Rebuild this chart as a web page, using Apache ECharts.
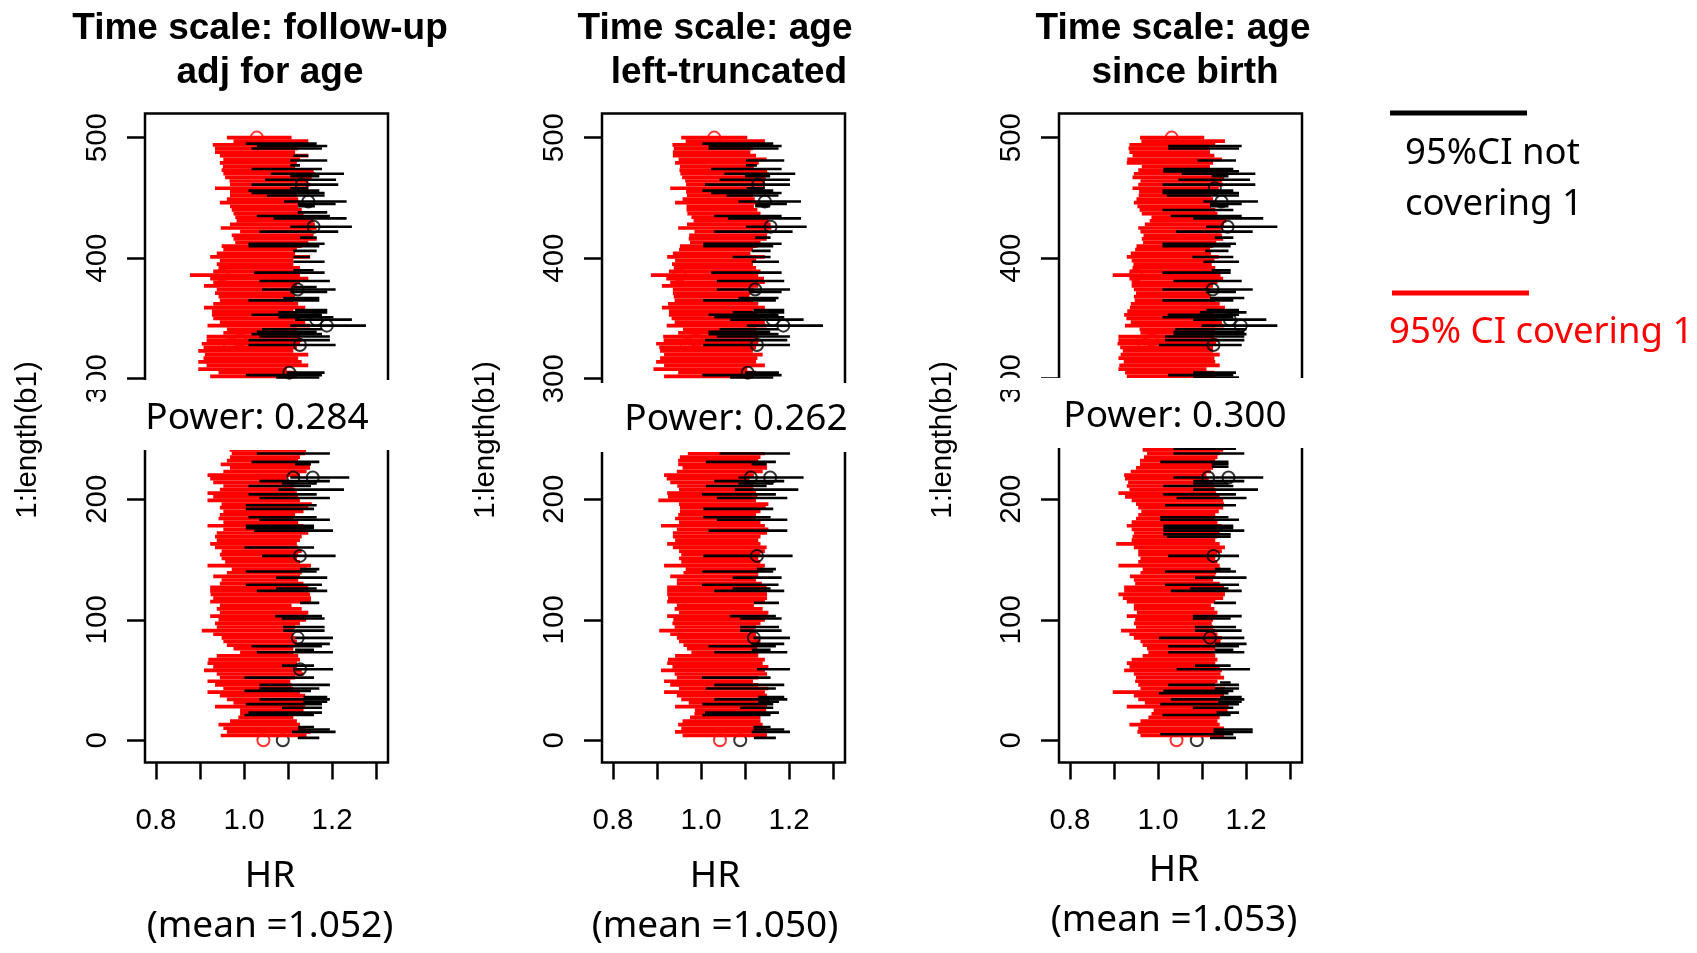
<!DOCTYPE html>
<html><head><meta charset="utf-8">
<style>html,body{margin:0;padding:0;background:#fff}#c{width:1697px;height:953px}</style>
<script src="https://cdn.jsdelivr.net/npm/echarts@6/dist/echarts.min.js"></script></head>
<body><div id="c"></div>
<script>
const yTicks=[0,100,200,300,400,500];
const xTicks=[0.8,0.9,1.0,1.1,1.2,1.3];
const xLabels=[0.8,1.0,1.2];
const redRows=[500,497,494,491,488,485,482,479,476,473,470,467,464,461,458,455,452,449,446,443,440,437,434,431,428,425,422,419,416,413,410,407,404,401,398,395,392,389,386,383,380,377,374,371,368,365,362,359,356,353,350,347,344,341,338,335,332,329,326,323,320,317,314,311,308,305,302,
241,238,235,232,229,226,223,220,217,214,211,208,205,202,199,196,193,190,187,184,181,178,175,172,169,166,163,160,157,154,151,148,145,142,139,136,133,130,127,124,121,118,115,112,109,106,103,100,97,94,91,88,85,82,79,76,73,70,67,64,61,58,55,52,49,46,43,40,37,34,31,28,25,22,19,16,13,10,7,4];

const p1RedLo=[.961,.976,.929,.934,.934,.945,.953,.945,.952,.949,.953,.957,.967,.968,.934,.968,.968,.961,.945,.968,.972,.976,.980,.983,.968,.947,.991,.972,.976,.980,.949,.953,.938,.923,.945,.938,.942,.930,.877,.923,.930,.909,.938,.934,.942,.945,.930,.909,.927,.927,.930,.945,.917,.961,.953,.915,.915,.904,.908,.896,.911,.908,.896,.915,.896,.942,.923,
.967,.972,.968,.961,.947,.968,.953,.917,.923,.930,.953,.945,.917,.930,.917,.949,.945,.953,.945,.942,.953,.917,.953,.938,.934,.938,.923,.934,.949,.945,.949,.957,.917,.972,.961,.930,.949,.945,.923,.923,.924,.930,.923,.945,.938,.945,.923,.942,.934,.938,.904,.930,.949,.953,.961,.976,.991,.938,.919,.917,.930,.909,.938,.945,.917,.934,.953,.917,.945,.961,.976,.934,.991,.991,.987,.968,.942,.953,.961,.947];
const p1RedHi=[1.108,1.146,1.131,1.123,1.116,1.146,1.127,1.120,1.116,1.158,1.161,1.154,1.146,1.150,1.146,1.127,1.120,1.123,1.127,1.123,1.131,1.135,1.154,1.158,1.161,1.165,1.154,1.158,1.165,1.146,1.131,1.120,1.116,1.150,1.112,1.112,1.127,1.131,1.127,1.146,1.127,1.120,1.116,1.112,1.116,1.112,1.123,1.139,1.112,1.120,1.127,1.139,1.150,1.120,1.112,1.127,1.131,1.127,1.120,1.112,1.146,1.123,1.131,1.146,1.097,1.120,1.120,
1.141,1.139,1.127,1.123,1.150,1.150,1.142,1.127,1.097,1.105,1.112,1.116,1.120,1.123,1.127,1.154,1.146,1.135,1.116,1.112,1.123,1.135,1.146,1.146,1.131,1.127,1.120,1.123,1.131,1.123,1.120,1.127,1.152,1.142,1.131,1.127,1.123,1.135,1.146,1.146,1.150,1.152,1.152,1.108,1.131,1.146,1.142,1.141,1.127,1.116,1.112,1.112,1.116,1.120,1.116,1.112,1.112,1.123,1.127,1.120,1.120,1.131,1.135,1.116,1.105,1.108,1.112,1.127,1.139,1.139,1.142,1.139,1.135,1.123,1.112,1.120,1.127,1.139,1.152,1.142];

const p2RedLo=[.955,.965,.935,.938,.936,.936,.949,.941,.952,.951,.953,.957,.964,.966,.930,.966,.968,.958,.941,.967,.967,.969,.978,.983,.968,.948,.985,.973,.972,.975,.952,.950,.936,.923,.941,.934,.938,.927,.886,.921,.930,.911,.936,.936,.938,.940,.925,.911,.927,.927,.933,.940,.922,.959,.948,.914,.915,.898,.905,.907,.916,.907,.898,.916,.892,.948,.916,
.966,.970,.952,.948,.948,.958,.945,.916,.922,.930,.946,.950,.923,.925,.903,.950,.952,.952,.948,.941,.950,.909,.945,.936,.936,.941,.923,.936,.950,.955,.950,.955,.916,.965,.960,.930,.945,.945,.923,.923,.923,.925,.923,.945,.940,.950,.923,.937,.935,.940,.905,.930,.945,.950,.960,.968,.978,.941,.925,.923,.935,.909,.940,.945,.916,.930,.950,.916,.945,.955,.972,.941,.986,.985,.975,.958,.948,.955,.941,.958];
const p2RedHi=[1.105,1.145,1.130,1.118,1.112,1.125,1.149,1.131,1.120,1.150,1.153,1.147,1.145,1.143,1.140,1.125,1.118,1.122,1.125,1.120,1.128,1.135,1.150,1.153,1.158,1.160,1.152,1.150,1.149,1.135,1.128,1.118,1.112,1.145,1.125,1.118,1.125,1.135,1.130,1.143,1.145,1.130,1.120,1.112,1.110,1.118,1.130,1.145,1.118,1.128,1.135,1.145,1.149,1.125,1.118,1.130,1.132,1.130,1.125,1.118,1.140,1.128,1.125,1.145,1.105,1.125,1.120,
1.145,1.145,1.135,1.130,1.149,1.150,1.140,1.120,1.110,1.112,1.118,1.120,1.125,1.128,1.125,1.153,1.147,1.135,1.125,1.125,1.135,1.145,1.153,1.150,1.135,1.130,1.135,1.149,1.145,1.135,1.130,1.135,1.145,1.142,1.130,1.130,1.125,1.138,1.149,1.149,1.150,1.150,1.145,1.120,1.140,1.153,1.150,1.145,1.135,1.125,1.120,1.125,1.130,1.135,1.130,1.128,1.130,1.130,1.145,1.140,1.153,1.145,1.150,1.130,1.118,1.130,1.153,1.145,1.150,1.155,1.160,1.150,1.148,1.140,1.135,1.135,1.140,1.148,1.150,1.150];

const p3RedLo=[.959,.962,.935,.933,.935,.942,.930,.929,.963,.955,.945,.942,.960,.955,.942,.957,.956,.951,.945,.953,.958,.963,.985,.981,.970,.955,.960,.967,.963,.966,.951,.948,.938,.929,.940,.944,.942,.935,.897,.935,.940,.940,.945,.950,.945,.947,.938,.936,.930,.923,.928,.938,.925,.958,.960,.910,.910,.908,.914,.920,.915,.910,.922,.912,.910,.925,.929,
.965,.975,.968,.959,.959,.950,.938,.923,.925,.932,.929,.935,.910,.925,.940,.950,.955,.962,.955,.950,.940,.929,.940,.945,.942,.940,.905,.945,.955,.955,.960,.955,.910,.965,.960,.936,.945,.948,.923,.923,.910,.920,.929,.945,.945,.952,.929,.948,.945,.950,.916,.935,.945,.960,.965,.975,.978,.965,.940,.929,.935,.923,.945,.950,.948,.955,.960,.897,.945,.955,.970,.929,.990,.985,.978,.960,.935,.955,.953,.960];
const p3RedHi=[1.105,1.152,1.130,1.118,1.118,1.128,1.145,1.125,1.118,1.150,1.158,1.150,1.145,1.148,1.138,1.125,1.120,1.125,1.130,1.120,1.130,1.135,1.152,1.155,1.150,1.148,1.142,1.145,1.148,1.132,1.125,1.118,1.120,1.138,1.128,1.122,1.130,1.140,1.142,1.148,1.135,1.125,1.118,1.115,1.120,1.130,1.140,1.152,1.130,1.125,1.135,1.145,1.150,1.130,1.125,1.128,1.135,1.132,1.125,1.125,1.140,1.128,1.130,1.140,1.110,1.128,1.130,
1.148,1.140,1.135,1.130,1.130,1.125,1.120,1.110,1.115,1.125,1.128,1.130,1.132,1.140,1.148,1.150,1.148,1.138,1.130,1.130,1.135,1.145,1.146,1.140,1.135,1.130,1.140,1.152,1.145,1.135,1.130,1.135,1.140,1.142,1.132,1.130,1.125,1.140,1.150,1.152,1.152,1.148,1.130,1.120,1.128,1.135,1.130,1.125,1.122,1.125,1.130,1.135,1.145,1.142,1.135,1.130,1.128,1.130,1.135,1.130,1.140,1.145,1.142,1.150,1.135,1.130,1.152,1.148,1.150,1.140,1.150,1.160,1.158,1.145,1.140,1.135,1.140,1.150,1.148,1.150];

const p1BlackRows=[495,493,491,485,481,477,474,470,468,465,461,458,456,454,452,447,445,443,438,435,433,426,422,417,412,410,406,401,397,390,388,381,376,374,372,367,365,357,355,353,351,349,344,341,339,337,335,332,328,305,303,301,238,231,229,218,215,213,211,208,204,201,195,192,185,183,178,176,174,160,153,142,140,135,129,126,124,114,103,101,94,91,85,80,78,75,73,62,59,52,46,43,41,36,34,32,30,27,23,21,11,9,7,2];
const p1BlackLo=[1.004,1.029,1.017,1.112,1.105,1.105,1.017,1.061,1.105,1.048,1.017,1.105,1.010,1.017,1.052,1.091,1.122,1.123,1.122,1.029,1.067,1.105,1.035,1.127,1.010,1.010,1.112,1.112,1.112,1.112,1.023,1.035,1.112,1.041,1.105,1.089,1.010,1.116,1.078,1.017,1.078,1.116,1.105,1.041,1.029,1.017,1.035,1.010,1.010,1.097,1.004,1.073,1.029,1.017,1.116,1.105,1.035,1.086,1.010,1.078,1.010,1.035,1.004,1.004,1.010,1.035,1.004,1.004,1.023,1.001,1.041,1.127,1.004,1.073,1.004,1.073,1.029,1.127,1.071,1.086,1.089,1.089,1.116,1.116,1.017,1.116,1.029,1.086,1.116,1.001,1.035,1.035,1.001,1.135,1.035,1.135,1.004,1.086,1.010,1.001,1.123,1.123,1.109,1.122];
const p1BlackHi=[1.165,1.189,1.177,1.146,1.189,1.127,1.177,1.227,1.171,1.209,1.214,1.146,1.171,1.183,1.183,1.233,1.208,1.161,1.189,1.195,1.233,1.245,1.214,1.165,1.183,1.171,1.165,1.150,1.183,1.158,1.183,1.195,1.165,1.208,1.189,1.171,1.171,1.189,1.189,1.177,1.203,1.245,1.277,1.177,1.165,1.177,1.195,1.195,1.208,1.183,1.177,1.171,1.195,1.171,1.152,1.239,1.195,1.165,1.152,1.227,1.165,1.195,1.165,1.159,1.165,1.195,1.159,1.159,1.202,1.159,1.208,1.171,1.165,1.189,1.177,1.165,1.189,1.171,1.177,1.183,1.183,1.183,1.202,1.195,1.177,1.159,1.202,1.159,1.202,1.159,1.195,1.171,1.152,1.189,1.195,1.189,1.177,1.177,1.177,1.159,1.159,1.195,1.208,1.171];

const p2BlackRows=[495,493,491,481,477,474,470,468,465,461,458,456,454,452,447,445,443,435,433,426,422,417,412,410,406,401,397,388,381,374,372,367,365,357,355,353,351,349,344,341,339,337,335,332,328,305,303,301,238,231,229,218,215,213,211,208,204,201,192,185,183,174,153,142,140,135,129,126,124,114,103,101,94,91,85,80,78,75,73,59,52,46,43,36,34,32,30,27,23,21,11,9,7,2];
const p2BlackLo=[1.003,1.017,1.017,1.102,1.102,1.023,1.053,1.100,1.042,1.009,1.104,1.003,1.023,1.058,1.085,1.123,1.123,1.030,1.061,1.102,1.030,1.123,1.005,1.005,1.115,1.072,1.115,1.023,1.036,1.036,1.111,1.085,1.005,1.119,1.072,1.017,1.030,1.066,1.104,1.042,1.017,1.017,1.036,1.009,1.005,1.100,1.003,1.066,1.042,1.011,1.115,1.085,1.030,1.085,1.011,1.077,1.002,1.036,1.005,1.005,1.036,1.017,1.005,1.127,1.003,1.072,1.002,1.072,1.030,1.120,1.066,1.089,1.089,1.089,1.119,1.115,1.017,1.115,1.030,1.127,1.002,1.030,1.011,1.130,1.030,1.130,1.003,1.089,1.009,1.003,1.119,1.119,1.115,1.120];
const p2BlackHi=[1.164,1.183,1.176,1.189,1.127,1.183,1.214,1.157,1.202,1.202,1.145,1.164,1.183,1.176,1.227,1.195,1.157,1.183,1.227,1.240,1.208,1.158,1.183,1.164,1.158,1.158,1.177,1.183,1.189,1.202,1.183,1.176,1.170,1.189,1.189,1.176,1.189,1.233,1.277,1.176,1.157,1.176,1.202,1.196,1.202,1.177,1.183,1.164,1.202,1.170,1.149,1.233,1.189,1.164,1.149,1.221,1.170,1.196,1.164,1.158,1.196,1.196,1.208,1.170,1.164,1.183,1.176,1.158,1.189,1.177,1.170,1.183,1.177,1.183,1.202,1.189,1.170,1.158,1.196,1.202,1.158,1.189,1.170,1.189,1.196,1.177,1.164,1.164,1.177,1.158,1.158,1.189,1.202,1.170];

const p3BlackRows=[493,491,481,474,472,470,468,465,461,456,454,452,447,445,443,440,435,433,426,422,417,412,410,406,401,397,390,388,381,374,372,367,365,357,355,353,351,349,344,341,339,337,335,332,328,305,303,301,242,238,231,229,227,218,215,213,211,208,204,201,195,185,183,178,176,174,171,169,153,142,140,135,129,126,124,114,103,101,94,91,85,80,78,75,73,62,59,48,46,43,41,39,36,34,32,30,27,23,21,9,7,5,2];
const p3BlackLo=[1.023,1.023,1.090,1.012,1.012,1.054,1.122,1.046,1.010,1.010,1.010,1.020,1.103,1.118,1.118,1.010,1.029,1.080,1.109,1.041,1.129,1.010,1.010,1.107,1.078,1.103,1.122,1.010,1.035,1.010,1.110,1.118,1.010,1.110,1.095,1.022,1.010,1.080,1.099,1.039,1.035,1.035,1.016,1.016,1.002,1.080,1.023,1.080,1.035,1.035,1.005,1.122,1.122,1.035,1.080,1.080,1.012,1.080,1.012,1.042,1.016,1.005,1.005,1.012,1.012,1.012,1.012,1.020,1.023,1.129,1.016,1.084,1.016,1.073,1.029,1.127,1.079,1.079,1.084,1.084,1.002,1.129,1.023,1.129,1.023,1.084,1.042,1.141,1.023,1.129,1.012,1.002,1.141,1.029,1.137,1.005,1.079,1.133,1.010,1.126,1.126,1.005,1.118];
const p3BlackHi=[1.190,1.184,1.177,1.171,1.184,1.221,1.160,1.209,1.221,1.171,1.184,1.184,1.227,1.190,1.160,1.171,1.190,1.239,1.271,1.215,1.171,1.177,1.165,1.160,1.171,1.184,1.165,1.165,1.190,1.215,1.177,1.196,1.171,1.184,1.201,1.184,1.171,1.246,1.271,1.201,1.196,1.201,1.196,1.196,1.190,1.177,1.171,1.184,1.177,1.196,1.160,1.160,1.160,1.239,1.196,1.160,1.171,1.227,1.177,1.201,1.177,1.160,1.184,1.171,1.171,1.196,1.165,1.165,1.184,1.165,1.177,1.201,1.184,1.160,1.190,1.177,1.190,1.165,1.177,1.190,1.196,1.201,1.184,1.171,1.196,1.165,1.209,1.165,1.184,1.184,1.171,1.160,1.190,1.196,1.190,1.184,1.171,1.184,1.165,1.215,1.215,1.171,1.177];

const p1BlackPtRows=[426,344,349,374,447,328,461,305,218,218,153,85,59];
const p1BlackPtEst=[1.158,1.188,1.164,1.122,1.146,1.127,1.131,1.103,1.156,1.112,1.127,1.122,1.127];
const p2BlackPtRows=[426,344,349,374,447,328,461,305,218,218,153,85];
const p2BlackPtEst=[1.158,1.187,1.163,1.123,1.145,1.127,1.130,1.106,1.157,1.113,1.127,1.120];
const p3BlackPtRows=[426,344,349,374,447,328,458,218,218,153,85];
const p3BlackPtEst=[1.158,1.188,1.163,1.124,1.144,1.126,1.129,1.160,1.114,1.126,1.118];
const lowBlackRow=[0];
const p1LowBlackEst=[1.088];
const p2LowBlackEst=[1.089];
const p3LowBlackEst=[1.088];
const redPtRows=[500,386,328,332,0];
const p1RedPtEst=[1.029,.950,.968,.991,1.044];
const p2RedPtEst=[1.030,.951,.967,.989,1.043];
const p3RedPtEst=[1.031,.950,.969,.986,1.042];

const titles=[["Time scale: follow-up","adj for age"],["Time scale: age","left-truncated"],["Time scale: age","since birth"]];
const powers=["Power: 0.284","Power: 0.262","Power: 0.300"];
const means=["(mean =1.052)","(mean =1.050)","(mean =1.053)"];

const zip2=(r,a,b)=>r.map((v,i)=>[a[i],b[i],v]);
const zipPt=(r,e)=>r.map((v,i)=>[e[i],v]);
const panels=[
 {left:145,red:zip2(redRows,p1RedLo,p1RedHi),blk:zip2(p1BlackRows,p1BlackLo,p1BlackHi),bp:zipPt(p1BlackPtRows,p1BlackPtEst),lb:zipPt(lowBlackRow,p1LowBlackEst),rp:zipPt(redPtRows,p1RedPtEst)},
 {left:602,red:zip2(redRows,p2RedLo,p2RedHi),blk:zip2(p2BlackRows,p2BlackLo,p2BlackHi),bp:zipPt(p2BlackPtRows,p2BlackPtEst),lb:zipPt(lowBlackRow,p2LowBlackEst),rp:zipPt(redPtRows,p2RedPtEst)},
 {left:1059,red:zip2(redRows,p3RedLo,p3RedHi),blk:zip2(p3BlackRows,p3BlackLo,p3BlackHi),bp:zipPt(p3BlackPtRows,p3BlackPtEst),lb:zipPt(lowBlackRow,p3LowBlackEst),rp:zipPt(redPtRows,p3RedPtEst)}
];
const helv='"Liberation Sans",Arial,sans-serif', sans='"Noto Sans","Open Sans",sans-serif';
const grid=[],xAxis=[],yAxis=[],series=[];
panels.forEach((p,i)=>{
  grid.push({left:p.left,top:113.5,width:243,height:649,show:true,borderColor:'#000',borderWidth:2.5,backgroundColor:'transparent'});
  xAxis.push({gridIndex:i,type:'value',min:.775,max:1.327,splitLine:{show:false},axisLine:{show:false,onZero:false},
    axisTick:{show:true,length:17,lineStyle:{color:'#000',width:2.5},customValues:xTicks},
    axisLabel:{show:true,margin:43,fontFamily:helv,fontSize:29.5,color:'#000',customValues:xLabels,formatter:v=>v.toFixed(1)}});
  yAxis.push({gridIndex:i,type:'value',min:-18.4,max:520,splitLine:{show:false},axisLine:{show:false,onZero:false},
    axisTick:{show:true,length:18,lineStyle:{color:'#000',width:2.5},customValues:yTicks},
    axisLabel:{show:true,rotate:90,margin:47,fontFamily:helv,fontSize:29.5,color:'#000',customValues:yTicks,verticalAlign:'middle',align:'center'}});
  const seg=(data,color,z)=>({type:'custom',xAxisIndex:i,yAxisIndex:i,z,clip:true,animation:false,silent:true,
    encode:{x:[0,1],y:2},data,
    renderItem:(params,api)=>{
      const a=api.coord([api.value(0),api.value(2)]),b=api.coord([api.value(1),api.value(2)]);
      return {type:'line',shape:{x1:a[0],y1:a[1],x2:b[0],y2:b[1]},style:{stroke:color,lineWidth:color==='#ff0000'?3.7:2.6}};
    }});
  const pts=(data,color,z)=>({type:'scatter',xAxisIndex:i,yAxisIndex:i,z,animation:false,silent:true,symbol:'circle',symbolSize:12,
    data,itemStyle:{color:'rgba(0,0,0,0)',borderColor:color,borderWidth:2}});
  series.push(pts(p.rp,'#ff0000',2),pts(p.lb,'#000',2),seg(p.red,'#ff0000',3),pts(p.bp,'#000',4),seg(p.blk,'#000',5));
});
const T=(text,x,y,size,o={})=>({type:'text',z:200,x,y,rotation:o.rot||0,style:{text,fill:o.color||'#000',font:(o.weight||'normal')+' '+size+'px '+(o.family||sans),textAlign:o.align||'center',textVerticalAlign:'middle'}});
const R=(x,y,w,h)=>({type:'rect',z:100,shape:{x,y,width:w,height:h},style:{fill:'#fff'}});
const graphic=[
 R(80,380,320,10),R(112,390,288,60),
 R(570,383,290,69),
 R(990,378,325,12),R(1026,390,289,58),
 T(titles[0][0],260,29,37,{weight:'bold',family:helv}),T(titles[0][1],270,73,37,{weight:'bold',family:helv}),
 T(titles[1][0],715,29,37,{weight:'bold',family:helv}),T(titles[1][1],729,73,37,{weight:'bold',family:helv}),
 T(titles[2][0],1173,29,37,{weight:'bold',family:helv}),T(titles[2][1],1185,73,37,{weight:'bold',family:helv}),
 T(powers[0],257,418,37),T(powers[1],736,419,37),T(powers[2],1175,416,37),
 T('HR',270,876,37),T(means[0],270,926,37),
 T('HR',715,876,37),T(means[1],715,926,37),
 T('HR',1174,870,37),T(means[2],1174,920,37),
 T('1:length(b1)',28,440,29.5,{rot:Math.PI/2,family:helv}),
 T('1:length(b1)',486,440,29.5,{rot:Math.PI/2,family:helv}),
 T('1:length(b1)',943,440,29.5,{rot:Math.PI/2,family:helv}),
 {type:'rect',z:100,shape:{x:1390,y:110.5,width:137,height:5},style:{fill:'#000'}},
 {type:'rect',z:100,shape:{x:1392,y:290.5,width:137,height:5},style:{fill:'#ff0000'}},
 T('95%CI not',1405,154,36.5,{align:'left'}),T('covering 1',1405,205,36.5,{align:'left'}),
 T('95% CI covering 1',1389,333,36.5,{align:'left',color:'#ff0000'})
];
const chart=echarts.init(document.getElementById('c'),null,{renderer:'canvas'});
chart.setOption({animation:false,backgroundColor:'#fff',grid,xAxis,yAxis,series,graphic});
</script></body></html>
